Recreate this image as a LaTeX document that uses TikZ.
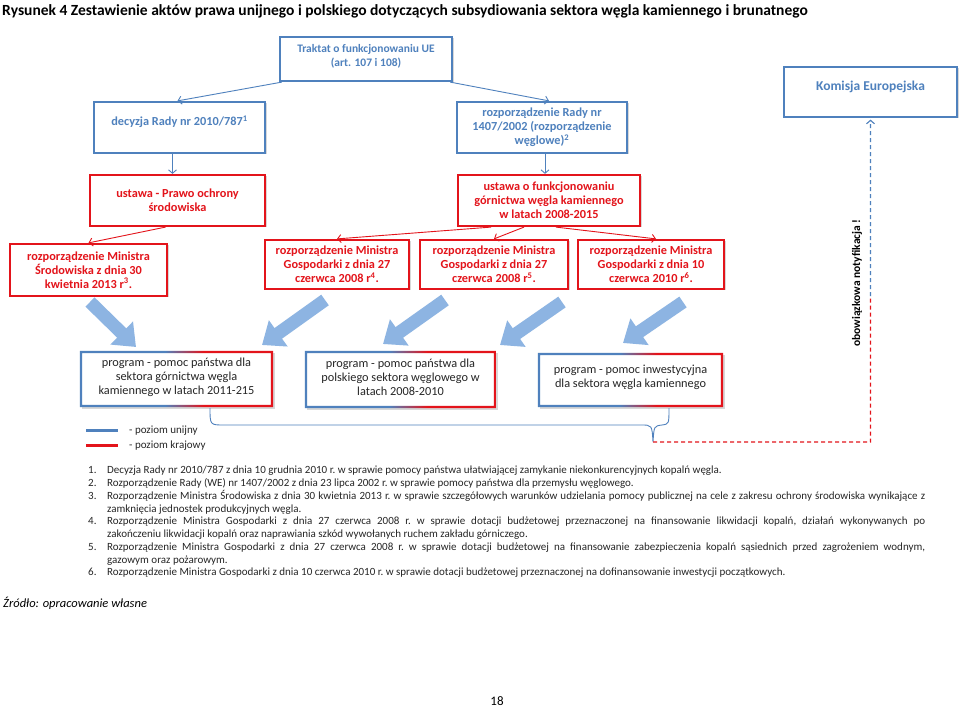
\documentclass[tikz,border=0pt]{standalone}
\usepackage{fontspec}
\setmainfont{Carlito}
\usetikzlibrary{arrows.meta,shadows,calc}
\definecolor{ueblue}{HTML}{4F81BD}
\definecolor{krred}{HTML}{E3141B}
\definecolor{blockblue}{HTML}{8DB4E2}
\definecolor{progtext}{HTML}{262626}
\pgfdeclarehorizontalshading{bluered}{100bp}{color(0bp)=(ueblue); color(47bp)=(ueblue); color(57bp)=(krred); color(100bp)=(krred)}
\newcommand\upby[1]{\\[#1]\mbox{}}
\newcommand\gradframe[1]{\shade[shading=bluered, even odd rule] (#1.south west) rectangle (#1.north east) ([xshift=2.4pt,yshift=2.4pt]#1.south west) rectangle ([xshift=-2.4pt,yshift=-2.4pt]#1.north east);}
\newcommand\fnitem[2]{\par\noindent\hangindent=19pt\hangafter=1\makebox[19pt][l]{#1}#2}
\begin{document}
\begin{tikzpicture}[x=1pt,y=-1pt,
  shadowed/.style={drop shadow={shadow xshift=1.5pt,shadow yshift=-1.5pt,opacity=0.3}},
  ubox/.style={draw=ueblue, line width=2.2pt, fill=white, text=ueblue, shadowed,
     font=\fontsize{12.3}{14}\selectfont\bfseries, align=center, inner sep=0pt},
  kbox/.style={draw=krred, line width=2.2pt, fill=white, text=krred, shadowed,
     font=\fontsize{12.3}{14}\selectfont\bfseries, align=center, inner sep=0pt},
  pbox/.style={fill=white, text=progtext, shadowed,
     font=\fontsize{12.3}{13.8}\selectfont, align=center, inner sep=0pt},
  uline/.style={draw=ueblue, line width=0.9pt, -{Straight Barb[length=3.5pt,width=8pt]}},
  kline/.style={draw=krred, line width=0.9pt, -{Straight Barb[length=3.5pt,width=8pt]}},
  blockarrow/.style={blockblue, line width=13pt, -{Triangle[length=20pt,width=31pt]}},
  legtext/.style={anchor=west, font=\fontsize{11}{13}\selectfont, text=progtext, inner sep=0pt}
]
\useasboundingbox[fill=white] (0,0) rectangle (960,708);

% title
\node[anchor=base west, inner sep=0pt, font=\fontsize{15.5}{18}\selectfont\bfseries] (title) at (2,16)
  {Rysunek 4 Zestawienie aktów prawa unijnego i polskiego dotyczących subsydiowania sektora węgla kamiennego i brunatnego};

% EU level
\node[ubox, font=\fontsize{11.5}{14}\selectfont\bfseries, minimum width=172pt, minimum height=44pt] (trak) at (366,59)
  {Traktat o funkcjonowaniu UE\\(art. 107 i 108)\upby{-6pt}};
\node[ubox, font=\fontsize{13.5}{14}\selectfont\bfseries, minimum width=173pt, minimum height=50pt] (kom) at (870.5,92)
  {Komisja Europejska\upby{-2pt}};
\node[ubox, minimum width=171pt, minimum height=51pt] (dec) at (179.5,127.5)
  {decyzja Rady nr 2010/787\textsuperscript{1}\upby{-1pt}};
\node[ubox, minimum width=170pt, minimum height=51pt] (rozR) at (542,127.5)
  {rozporządzenie Rady nr\\1407/2002 (rozporządzenie\\węglowe)\textsuperscript{2}};

% national level
\node[kbox, minimum width=175pt, minimum height=51pt] (ustPOS) at (177.5,200.5)
  {ustawa - Prawo ochrony\\środowiska};
\node[kbox, minimum width=182pt, minimum height=51pt] (ustF) at (549,200.5)
  {ustawa o funkcjonowaniu\\górnictwa węgla kamiennego\\w latach 2008-2015};
\node[kbox, minimum width=157pt, minimum height=52pt] (rMS) at (88.5,270)
  {rozporządzenie Ministra\\Środowiska z dnia 30\\kwietnia 2013 r\textsuperscript{3}.};
\node[kbox, minimum width=144pt, minimum height=49pt] (rMG4) at (337,264.5)
  {rozporządzenie Ministra\\Gospodarki z dnia 27\\czerwca 2008 r\textsuperscript{4}.};
\node[kbox, minimum width=148pt, minimum height=49pt] (rMG5) at (494,264.5)
  {rozporządzenie Ministra\\Gospodarki z dnia 27\\czerwca 2008 r\textsuperscript{5}.};
\node[kbox, minimum width=146pt, minimum height=49pt] (rMG6) at (651,264.5)
  {rozporządzenie Ministra\\Gospodarki z dnia 10\\czerwca 2010 r\textsuperscript{6}.};

% programmes
\node[pbox, minimum width=193pt, minimum height=56pt] (p1) at (176.5,379)
  {program - pomoc państwa dla\\sektora górnictwa węgla\\kamiennego w latach 2011-215\upby{-8.8pt}};
\node[pbox, minimum width=191pt, minimum height=57pt] (p2) at (400.5,379.5)
  {program - pomoc państwa dla\\polskiego sektora węglowego w\\latach 2008-2010\upby{-8.8pt}};
\node[pbox, minimum width=185pt, minimum height=54pt] (p3) at (630.5,380)
  {program - pomoc inwestycyjna\\dla sektora węgla kamiennego\upby{-5.8pt}};
\gradframe{p1}
\gradframe{p2}
\gradframe{p3}

% connectors
\draw[uline] ([xshift=3pt]trak.south west) -- ([xshift=-2pt]dec.north);
\draw[uline] ([xshift=-3pt]trak.south east) -- ([xshift=7pt]rozR.north);
\draw[uline] ([xshift=-7pt]dec.south) -- ([xshift=-7pt]dec.south |- ustPOS.north);
\draw[uline] ([xshift=3pt]rozR.south) -- ([xshift=3pt]rozR.south |- ustF.north);
\draw[kline] ([xshift=-12pt]ustPOS.south) -- (rMS.north);
\draw[kline] ([xshift=-58pt]ustF.south) -- (rMG4.north);
\draw[kline] ([xshift=-25pt]ustF.south) -- (rMG5.north);
\draw[kline] ([xshift=7pt]ustF.south) -- ([xshift=5pt]rMG6.north);

% block arrows
\coordinate (ba1t) at (90,302);  \coordinate (ba1h) at (136,347);
\coordinate (ba2t) at (325,300); \coordinate (ba2h) at (262,345);
\coordinate (ba3t) at (445,300); \coordinate (ba3h) at (383,344);
\coordinate (ba4t) at (562,302); \coordinate (ba4h) at (500,345);
\coordinate (ba5t) at (683,302); \coordinate (ba5h) at (623,343);
\foreach \i in {1,...,5} \draw[blockarrow] (ba\i t) -- (ba\i h);

% brace
\coordinate (brL) at (210,408);
\coordinate (brR) at (669,408);
\coordinate (tip) at (653,442);
\draw[ueblue, line width=0.9pt] (brL) .. controls (210,425) .. (224,425) -- (641,425)
  .. controls (652,425) .. (tip) .. controls (654,426) .. (662,425) .. controls (669,424) .. (brR);

% notification
\coordinate (turn) at (kom.south |- tip);
\coordinate (mid) at ($(kom.south)!0.55!(turn)$);
\draw[krred, line width=1.1pt, dash pattern=on 4pt off 3pt] (tip) -- (turn) -- (mid);
\draw[ueblue, line width=1.1pt, dash pattern=on 4pt off 3pt, -{Straight Barb[length=3.5pt,width=8pt]}] (mid) -- ([yshift=-1.5pt]kom.south);
\node[rotate=90, inner sep=0pt, font=\fontsize{11.5}{14}\selectfont\bfseries] (notif) at (857,283) {obowiązkowa notyfikacja !};

% legend
\coordinate (lb1) at (86,430); \coordinate (lb2) at (118,430);
\coordinate (lr1) at (86,445); \coordinate (lr2) at (118,445);
\draw[ueblue, line width=3pt] (lb1) -- (lb2);
\draw[krred, line width=3pt] (lr1) -- (lr2);
\node[legtext] (legu) at (129,431) {- poziom unijny};
\node[legtext] (legk) at (129,446) {- poziom krajowy};

% footnotes
\node[anchor=north west, text width=837pt, align=justify, inner sep=0pt,
      font=\fontsize{11}{12.75}\selectfont\frenchspacing, text=progtext] (notes) at (88,461) {%
\fnitem{1.}{Decyzja Rady nr 2010/787 z dnia 10 grudnia 2010 r. w sprawie pomocy państwa ułatwiającej zamykanie niekonkurencyjnych kopalń węgla.}
\fnitem{2.}{Rozporządzenie Rady (WE) nr 1407/2002 z dnia 23 lipca 2002 r. w sprawie pomocy państwa dla przemysłu węglowego.}
\fnitem{3.}{Rozporządzenie Ministra Środowiska z dnia 30 kwietnia 2013 r. w sprawie szczegółowych warunków udzielania pomocy publicznej na cele z zakresu ochrony środowiska wynikające z\linebreak zamknięcia jednostek produkcyjnych węgla.}
\fnitem{4.}{Rozporządzenie Ministra Gospodarki z dnia 27 czerwca 2008 r. w sprawie dotacji budżetowej przeznaczonej na finansowanie likwidacji kopalń, działań wykonywanych po\linebreak zakończeniu likwidacji kopalń oraz naprawiania szkód wywołanych ruchem zakładu górniczego.}
\fnitem{5.}{Rozporządzenie Ministra Gospodarki z dnia 27 czerwca 2008 r. w sprawie dotacji budżetowej na finansowanie zabezpieczenia kopalń sąsiednich przed zagrożeniem wodnym,\linebreak gazowym oraz pożarowym.}
\fnitem{6.}{Rozporządzenie Ministra Gospodarki z dnia 10 czerwca 2010 r. w sprawie dotacji budżetowej przeznaczonej na dofinansowanie inwestycji początkowych.}\par};

% source and page number
\node[anchor=base west, inner sep=0pt, font=\fontsize{12.5}{15}\selectfont\itshape] (src) at (3,607) {Źródło: opracowanie własne};
\node[anchor=base, inner sep=0pt, font=\fontsize{13}{15}\selectfont] (page) at (497,705) {18};
\end{tikzpicture}
\end{document}
